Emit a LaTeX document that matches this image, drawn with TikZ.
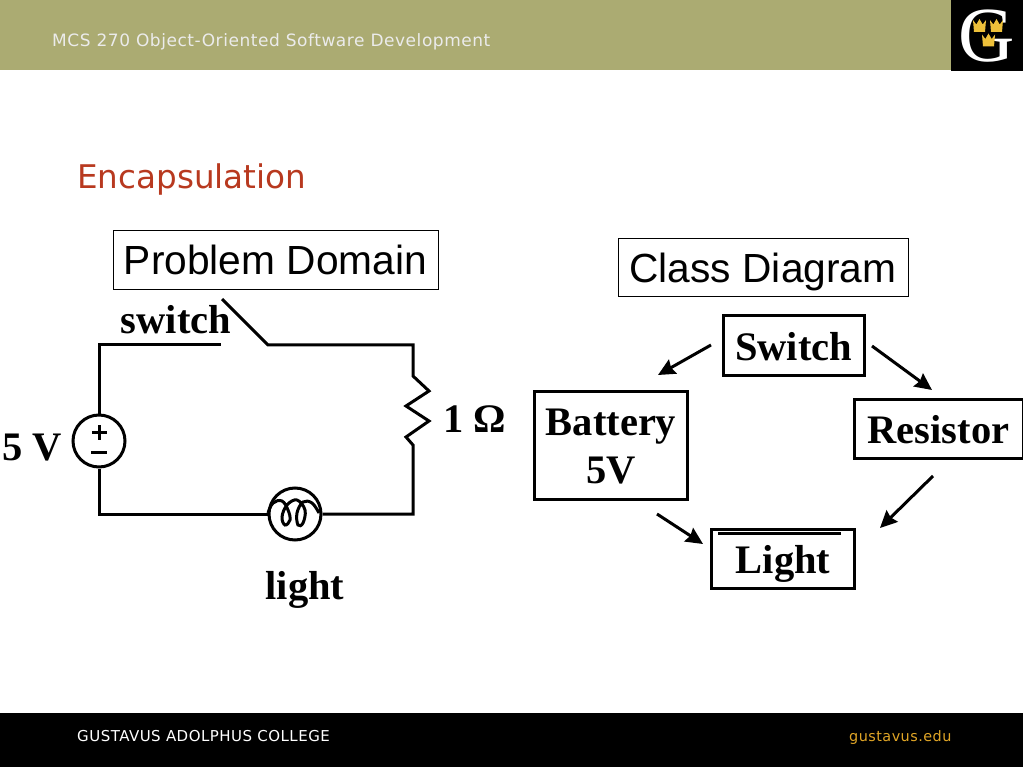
\documentclass[tikz,border=0pt]{standalone}
\usepackage{fontspec}
\setmainfont{Liberation Serif}
\setsansfont{Liberation Sans}
\newfontfamily\slidefont{DejaVu Sans}
\newfontfamily\bandfont[LetterSpace=3.2]{DejaVu Sans}
\usetikzlibrary{arrows.meta}
\definecolor{slideolive}{HTML}{ABAB72}
\definecolor{slidered}{HTML}{B8391F}
\definecolor{slidegold}{HTML}{E0A526}
\definecolor{crowngold}{HTML}{EDC03A}

\begin{document}
\begin{tikzpicture}[x=1pt,y=-1pt,>={Stealth[length=17pt,width=16pt,inset=2pt]}]
  \tikzstyle{wire}=[line width=3pt, draw=black, line join=miter]
  \tikzstyle{flow}=[line width=3pt, draw=black, ->]
  \tikzstyle{title}=[draw=black, line width=0.8pt, font=\fontsize{40.7}{44}\sffamily, inner sep=0pt, text height=31pt, text depth=0pt]
  \tikzstyle{classbox}=[draw=black, line width=3pt, font=\fontsize{40.5}{48}\bfseries, align=center, inner sep=0pt]
  \tikzstyle{oneline}=[text height=29pt, text depth=0pt]
  \tikzstyle{label}=[font=\fontsize{40.5}{44}\bfseries, anchor=base, inner sep=0pt]
  \tikzstyle{slidetext}=[font=\fontsize{17}{18}\bandfont, anchor=base west, inner sep=0pt]
  \tikzstyle{element}=[circle, draw=black, line width=3pt, fill=white, inner sep=0pt, minimum size=52pt]

  \useasboundingbox (0,0) rectangle (1023,767);
  \fill[white] (0,0) rectangle (1023,767);

  % header and footer bands
  \fill[slideolive] (0,0) rectangle (951,70);
  \fill[black] (951,0) rectangle (1023,71);
  \fill[black] (0,713) rectangle (1023,767);
  \node[slidetext, text=white!92!black] (course) at (52,46.5) {MCS 270 Object-Oriented Software Development};
  \node[slidetext, text=white, font=\fontsize{15}{16}\bandfont] (college) at (77,741.5) {GUSTAVUS ADOLPHUS COLLEGE};
  \node[slidetext, text=slidegold, font=\fontsize{14.4}{16}\bandfont] (website) at (849,741.5) {gustavus.edu};
  \node[slidetext, text=slidered, font=\fontsize{32.6}{36}\slidefont] (heading) at (77,188.5) {Encapsulation};

  % college mark
  \node[text=white, font=\fontsize{78}{80}\rmfamily, anchor=base, inner sep=0pt] (mark) at (987,62) {G};
  \foreach \x/\y in {979.5/26,996.5/26,988.5/40.5} {
    \fill[crowngold] (\x-6.5,\y-6) -- (\x-3.2,\y-1.5) -- (\x,\y-7) -- (\x+3.2,\y-1.5) -- (\x+6.5,\y-6)
      -- (\x+5.5,\y+6) -- (\x-5.5,\y+6) -- cycle;
  }

  % captions
  \node[title, minimum width=325pt, minimum height=59pt] (problem) at (275.5,259.5) {Problem Domain};
  \node[title, minimum width=290pt, minimum height=58pt] (classes) at (763,267) {Class Diagram};

  % circuit
  \node[element] (source) at (99,441) {};
  \node[element] (bulb) at (295,514) {};
  \coordinate (topleft) at (99,345);
  \coordinate (contact) at (221,345);
  \coordinate (hinge) at (268,345);
  \coordinate (blade) at (222,299);
  \coordinate (topright) at (413,345);
  \coordinate (resin) at (413,376);
  \coordinate (resout) at (413,445);
  \coordinate (botright) at (413,514);
  \coordinate (botleft) at (99,514);
  \draw[wire] (source) -- (topleft) -- (contact);
  \draw[wire] (blade) -- (hinge) -- (topright) -- (resin)
    -- (429,391) -- (406,406) -- (429,421) -- (406,437) -- (resout) -- (botright) -- (bulb);
  \draw[wire] (source) -- (botleft) -- (bulb);
  \draw[line width=3pt] plot[smooth, tension=0.65] coordinates {(268,513) (273,503) (282,501) (288,510)
    (290,520) (285,525) (282,517) (287,505) (297,500) (305,510) (303,523) (298,525) (297,513)
    (303,502) (312,503) (319,513)};
  \draw[line width=3pt] (92,432.5) -- (107,432.5) (99.5,425) -- (99.5,440);
  \draw[line width=3pt] (91,452) -- (107,452);
  \node[label] (switchlabel) at (176,334) {switch};
  \node[label] (voltlabel) at (32,460) {5 V};
  \node[label] (ohmlabel) at (474.5,432) {1 Ω};
  \node[label] (lightlabel) at (305,599) {light};

  % class diagram
  \node[classbox, oneline, minimum width=141pt, minimum height=59pt] (switchbox) at (793.5,345.5) {Switch};
  \node[classbox, text height=77pt, text depth=0pt, minimum width=153pt, minimum height=108pt] (batterybox) at (611,445) {Battery\\5V};
  \node[classbox, oneline, minimum width=169pt, minimum height=59pt] (resistorbox) at (938.5,428.5) {Resistor};
  \node[classbox, oneline, minimum width=143pt, minimum height=59pt] (lightbox) at (783,558.5) {Light};
  \draw[line width=3pt] (718,533.5) -- (841,533.5);

  \coordinate (a1) at (711,345);
  \coordinate (a2) at (658,375);
  \coordinate (b1) at (872,346);
  \coordinate (b2) at (932,390);
  \coordinate (c1) at (933,476);
  \coordinate (c2) at (880,528);
  \coordinate (d1) at (657,514);
  \coordinate (d2) at (703,544);
  \draw[flow] (a1) -- (a2);
  \draw[flow] (b1) -- (b2);
  \draw[flow] (c1) -- (c2);
  \draw[flow] (d1) -- (d2);
\end{tikzpicture}
\end{document}
